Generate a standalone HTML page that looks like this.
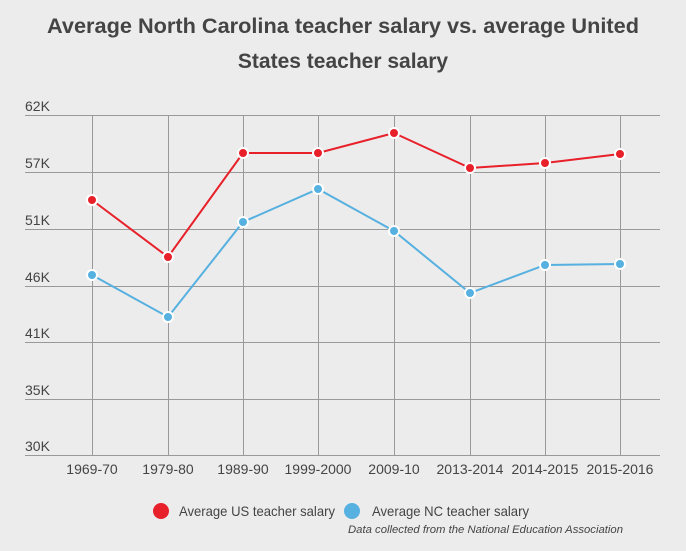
<!DOCTYPE html>
<html><head><meta charset="utf-8"><style>
html,body{margin:0;padding:0;background:#ececec;}
svg{display:block;font-family:"Liberation Sans",sans-serif;}
</style></head><body>
<svg width="686" height="551" viewBox="0 0 686 551">
<rect width="686" height="551" fill="#ececec"/>
<text x="47" y="33" textLength="592" lengthAdjust="spacingAndGlyphs" font-size="21" font-weight="bold" fill="#444">Average North Carolina teacher salary vs. average United</text>
<text x="343" y="68" text-anchor="middle" font-size="21" font-weight="bold" fill="#444">States teacher salary</text>
<g stroke="#999" stroke-width="1">
<line x1="25" y1="115.5" x2="660" y2="115.5"/>
<line x1="25" y1="172.5" x2="660" y2="172.5"/>
<line x1="25" y1="229.5" x2="660" y2="229.5"/>
<line x1="25" y1="286.5" x2="660" y2="286.5"/>
<line x1="25" y1="342.5" x2="660" y2="342.5"/>
<line x1="25" y1="399.5" x2="660" y2="399.5"/>
<line x1="25" y1="455.5" x2="660" y2="455.5"/>
<line x1="92.5" y1="115" x2="92.5" y2="456"/>
<line x1="168.5" y1="115" x2="168.5" y2="456"/>
<line x1="243.5" y1="115" x2="243.5" y2="456"/>
<line x1="318.5" y1="115" x2="318.5" y2="456"/>
<line x1="394.5" y1="115" x2="394.5" y2="456"/>
<line x1="470.5" y1="115" x2="470.5" y2="456"/>
<line x1="545.5" y1="115" x2="545.5" y2="456"/>
<line x1="620.5" y1="115" x2="620.5" y2="456"/>
</g>
<g font-size="14" fill="#444">
<text x="25" y="111">62K</text>
<text x="25" y="168">57K</text>
<text x="25" y="225">51K</text>
<text x="25" y="282">46K</text>
<text x="25" y="338">41K</text>
<text x="25" y="395">35K</text>
<text x="25" y="451">30K</text>
</g>
<g font-size="14" fill="#444" text-anchor="middle">
<text x="92" y="474">1969-70</text>
<text x="168" y="474">1979-80</text>
<text x="243" y="474">1989-90</text>
<text x="318" y="474">1999-2000</text>
<text x="394" y="474">2009-10</text>
<text x="470" y="474">2013-2014</text>
<text x="545" y="474">2014-2015</text>
<text x="620" y="474">2015-2016</text>
</g>
<polyline fill="none" stroke="#e8202a" stroke-width="2" points="92,200 168,257 243,153 318,153 394,133 470,168 545,163 620,154"/>
<polyline fill="none" stroke="#56b0e0" stroke-width="2" points="92,275 168,317 243,222 318,189 394,231 470,293 545,265 620,264"/>
<g fill="#e8202a" stroke="#fff" stroke-width="2">
<circle cx="92" cy="200" r="5"/><circle cx="168" cy="257" r="5"/><circle cx="243" cy="153" r="5"/><circle cx="318" cy="153" r="5"/><circle cx="394" cy="133" r="5"/><circle cx="470" cy="168" r="5"/><circle cx="545" cy="163" r="5"/><circle cx="620" cy="154" r="5"/>
</g>
<g fill="#56b0e0" stroke="#fff" stroke-width="2">
<circle cx="92" cy="275" r="5"/><circle cx="168" cy="317" r="5"/><circle cx="243" cy="222" r="5"/><circle cx="318" cy="189" r="5"/><circle cx="394" cy="231" r="5"/><circle cx="470" cy="293" r="5"/><circle cx="545" cy="265" r="5"/><circle cx="620" cy="264" r="5"/>
</g>
<circle cx="161" cy="511" r="8" fill="#e8202a"/>
<text x="179" y="516" font-size="14" fill="#444" textLength="156" lengthAdjust="spacingAndGlyphs">Average US teacher salary</text>
<circle cx="352" cy="511" r="8" fill="#56b0e0"/>
<text x="372" y="516" font-size="14" fill="#444" textLength="157" lengthAdjust="spacingAndGlyphs">Average NC teacher salary</text>
<text x="348" y="533" font-size="11" font-style="italic" fill="#444" textLength="275" lengthAdjust="spacingAndGlyphs">Data collected from the National Education Association</text>
</svg>
</body></html>
